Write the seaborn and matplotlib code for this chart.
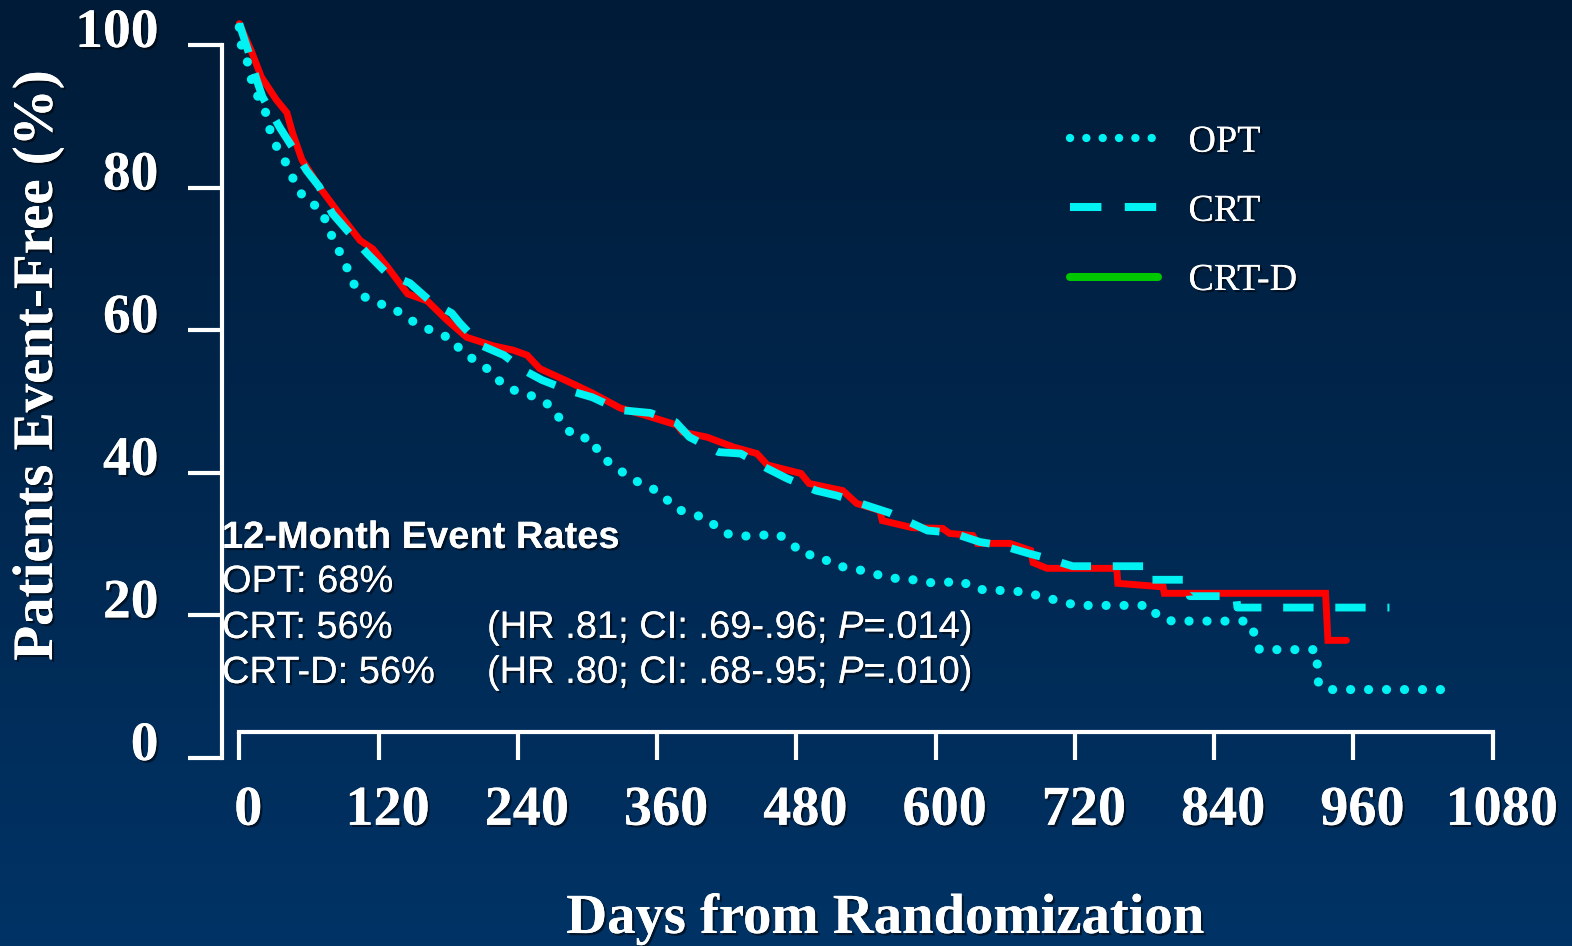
import numpy as np
import pandas as pd
import matplotlib
matplotlib.use("Agg")
import matplotlib.pyplot as plt
import matplotlib.patheffects as pe
from matplotlib.lines import Line2D
from matplotlib.transforms import ScaledTranslation
import seaborn as sns

# ---------------- data ----------------
opt_days = [0, 2, 8, 11, 17, 24, 27, 34, 42, 48, 57, 70, 76, 82, 90, 96, 103, 117, 132, 145,
            158, 169, 184, 191, 204, 217, 228, 241, 256, 270, 279, 289, 304, 311, 324, 337,
            351, 364, 375, 389, 404, 416, 431, 446, 464, 476, 484, 499, 513, 528, 545, 559,
            575, 591, 606, 623, 632, 646, 663, 679, 694, 708, 721, 785, 792, 804, 870, 875,
            879, 928, 930, 942, 1042]
opt_pct = [102.5, 99.7, 97.2, 94.7, 92.4, 90.1, 87.6, 85.1, 83.0, 80.6, 78.2, 77.1, 74.7, 72.3,
           69.9, 67.4, 65.1, 63.9, 63.2, 61.6, 60.6, 59.6, 58.8, 57.0, 55.7, 54.2, 52.2, 51.3,
           50.6, 49.2, 46.8, 45.0, 44.8, 42.3, 40.9, 39.2, 38.2, 37.1, 35.0, 34.3, 33.5, 31.6,
           31.1, 31.2, 31.4, 30.2, 28.6, 28.4, 27.0, 26.6, 26.0, 25.2, 25.2, 24.6, 24.6, 24.8,
           23.8, 23.5, 23.5, 23.2, 22.5, 22.0, 21.4, 21.4, 19.7, 19.2, 19.2, 17.3, 15.2, 15.2,
           10.2, 9.6, 9.6]

crt_days = [0, 4, 8, 15, 20, 35, 46, 58, 69, 80, 95, 110, 127, 147, 165, 183, 190, 208, 228,
            245, 261, 283, 304, 328, 354, 376, 388, 413, 432, 455, 472, 497, 515, 541, 560,
            593, 614, 638, 657, 680, 696, 718, 781, 782, 818, 819, 859, 860, 991]
crt_pct = [103, 101, 99, 95.1, 92.7, 88.4, 85.6, 82.4, 80.1, 76.4, 73.6, 70.8, 68.0, 66.6,
           64.0, 62.4, 61.0, 57.9, 56.5, 54.4, 53.0, 51.6, 50.6, 48.8, 48.4, 47.1, 45.0, 42.9,
           42.7, 40.6, 39.2, 37.5, 36.8, 35.4, 34.4, 31.9, 31.6, 30.3, 29.8, 28.7, 28.0, 26.9,
           26.9, 25.0, 25.0, 22.7, 22.7, 21.1, 21.1]

crtd_days = [0, 4, 10, 19, 32, 41, 46, 54, 69, 84, 104, 115, 128, 145, 162, 179, 196, 219,
             236, 248, 259, 282, 304, 328, 351, 377, 382, 403, 426, 446, 455, 484, 491, 520,
             532, 552, 554, 580, 606, 612, 632, 636, 664, 682, 684, 696, 756, 757, 796, 797,
             936, 938, 954]
crtd_pct = [103, 101.5, 99.3, 95.5, 92.3, 90.5, 87.6, 83.9, 80.1, 76.8, 72.6, 71.4, 68.8,
            65.1, 64.1, 61.4, 59.0, 57.8, 57.2, 56.5, 54.6, 52.9, 51.2, 49.1, 48.0, 46.7, 45.7,
            45.0, 43.6, 42.7, 41.1, 39.9, 38.5, 37.5, 35.7, 34.7, 33.3, 32.3, 32.2, 31.5, 31.2,
            30.1, 30.1, 29.1, 27.4, 26.6, 26.6, 24.5, 24.0, 23.1, 23.1, 16.5, 16.5]

x_ticks = [0, 120, 240, 360, 480, 600, 720, 840, 960, 1080]
y_ticks = [0, 20, 40, 60, 80, 100]
legend_labels = ["OPT", "CRT", "CRT-D"]
rate_lines = ["OPT: 68%", "CRT: 56%", "CRT-D: 56%"]
hr_lines = ["(HR .81; CI: .69-.96; $\\it{P}$=.014)", "(HR .80; CI: .68-.95; $\\it{P}$=.010)"]

# ---------------- style ----------------
sns.set_theme(style="white")
plt.rcParams["font.family"] = ["Liberation Serif", "DejaVu Serif"]
plt.rcParams["mathtext.fontset"] = "custom"
plt.rcParams["mathtext.rm"] = "Liberation Sans"
plt.rcParams["mathtext.it"] = "Liberation Sans:italic"

CYAN = "#00F2F2"
RED = "#FF0000"
GREEN = "#00C800"
WHITE = "white"
shadow = [pe.withSimplePatchShadow(offset=(1.6, -1.6), shadow_rgbFace="black", alpha=0.55),
          pe.Normal()]

W, H = 1572, 946
fig = plt.figure(figsize=(W / 100, H / 100), dpi=100)

# gradient background
bg = fig.add_axes([0, 0, 1, 1], zorder=-10)
top = np.array([0, 27, 55]) / 255.0
bot = np.array([0, 51, 102]) / 255.0
t = np.linspace(0, 1, 256)[:, None]
grad = (top[None, :] * (1 - t) + bot[None, :] * t)[:, None, :]
bg.imshow(np.repeat(grad, 2, axis=1), aspect="auto", extent=[0, 1, 0, 1], origin="upper")
bg.axis("off")

# main axes: x=0 at px 239.3, 1080 at px 1492.7; y=0 at px 758, 100 at px 45
X0, XPX = 239.3, 1253.4 / 1080.0
Y0, YPX = 758.0, 713.0 / 100.0
ax_l, ax_r, ax_t, ax_b = 200, 1510, 20, 775
ax = fig.add_axes([ax_l / W, 1 - ax_b / H, (ax_r - ax_l) / W, (ax_b - ax_t) / H])
ax.set_facecolor("none")
ax.set_xlim((ax_l - X0) / XPX, (ax_r - X0) / XPX)
ax.set_ylim((Y0 - ax_b) / YPX, (Y0 - ax_t) / YPX)

df_opt = pd.DataFrame({"day": opt_days, "pct": opt_pct})
df_crt = pd.DataFrame({"day": crt_days, "pct": crt_pct})
df_crtd = pd.DataFrame({"day": crtd_days, "pct": crtd_pct})

sns.lineplot(data=df_crtd, x="day", y="pct", ax=ax, estimator=None, sort=False,
             color=RED, linewidth=5.0, solid_joinstyle="miter", clip_on=False, zorder=3)
sns.lineplot(data=df_crt, x="day", y="pct", ax=ax, estimator=None, sort=False,
             color=CYAN, linewidth=5.6, linestyle=(0, (3.9, 2.8)), dash_capstyle="butt",
             clip_on=False, zorder=4)
sns.lineplot(data=df_opt, x="day", y="pct", ax=ax, estimator=None, sort=False,
             color=CYAN, linewidth=6.6, linestyle=(0, (0.01, 1.95)), dash_capstyle="round",
             clip_on=False, zorder=4)

# spines
for s in ["top", "right"]:
    ax.spines[s].set_visible(False)
for s in ["left", "bottom"]:
    ax.spines[s].set_color(WHITE)
    ax.spines[s].set_linewidth(3.0)
ax.spines["left"].set_position(("data", -15.2))
ax.spines["left"].set_bounds(0, 100)
ax.spines["bottom"].set_position(("data", 3.65))
ax.spines["bottom"].set_bounds(0, 1080)

ax.set_xticks(x_ticks)
ax.set_yticks(y_ticks)
ax.set_xticklabels([str(v) for v in x_ticks])
ax.set_yticklabels([str(v) for v in y_ticks])
ax.tick_params(axis="x", bottom=True, direction="out", length=20, width=3.0, color=WHITE,
               pad=18, labelsize=40.5, labelcolor=WHITE)
ax.tick_params(axis="y", left=True, direction="out", length=24.5, width=3.0, color=WHITE,
               pad=21, labelsize=40, labelcolor=WHITE)
for lab in ax.get_xticklabels():
    lab.set_fontweight("bold")
    lab.set_transform(lab.get_transform() + ScaledTranslation(0.09, 0, fig.dpi_scale_trans))
    lab.set_path_effects(shadow)
for lab in ax.get_yticklabels():
    lab.set_fontweight("bold")
    lab.set_transform(lab.get_transform() + ScaledTranslation(0, 0.18, fig.dpi_scale_trans))
    lab.set_path_effects(shadow)

ax.set_xlabel("Days from Randomization", fontsize=40.8, fontweight="bold", color=WHITE)
ax.xaxis.set_label_coords(885 / W, 1 - 919 / H, transform=fig.transFigure)
ax.xaxis.label.set_va("center")
ax.xaxis.label.set_path_effects(shadow)
ax.set_ylabel("Patients Event-Free (%)", fontsize=41, fontweight="bold", color=WHITE)
ax.yaxis.set_label_coords(38 / W, 1 - 365 / H, transform=fig.transFigure)
ax.yaxis.label.set_va("center")
ax.yaxis.label.set_path_effects(shadow)

# legend (the reference shows a green CRT-D legend key)
handles = [
    Line2D([], [], color=CYAN, linewidth=6.0, linestyle=(0, (0.01, 1.95)), dash_capstyle="round"),
    Line2D([], [], color=CYAN, linewidth=5.8, linestyle=(0, (3.9, 2.9)), dash_capstyle="butt"),
    Line2D([], [], color=GREEN, linewidth=5.8),
]
leg = ax.legend(handles, legend_labels, loc="upper left",
                bbox_to_anchor=(1070 / W, 1 - 125 / H), bbox_transform=fig.transFigure,
                frameon=False, fontsize=27.5, handlelength=2.3, handletextpad=0.8,
                labelspacing=0.9, borderpad=0, borderaxespad=0)
for txt in leg.get_texts():
    txt.set_color(WHITE)
    txt.set_path_effects(shadow)

# annotation block
sans = "Liberation Sans"
fig.text(222 / W, 1 - 538 / H, "12-Month Event Rates", fontsize=27.4, fontweight="bold",
         family=sans, color=WHITE, va="center", ha="left", path_effects=shadow)
ys = [582, 628, 673]
for yy, s in zip(ys, rate_lines):
    fig.text(222 / W, 1 - yy / H, s, fontsize=27.4, family=sans, color=WHITE,
             va="center", ha="left", path_effects=shadow)
for yy, s in zip(ys[1:], hr_lines):
    fig.text(487 / W, 1 - yy / H, s, fontsize=27.4, family=sans, color=WHITE,
             va="center", ha="left", path_effects=shadow)

fig.savefig("out.png", dpi=100, facecolor=fig.get_facecolor())
